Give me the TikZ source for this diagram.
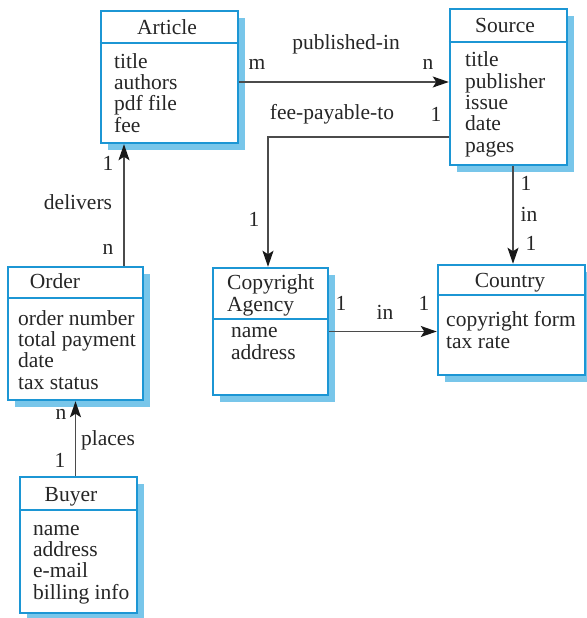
\documentclass[tikz,border=0pt]{standalone}
\usepackage{fontspec}
\setmainfont{Liberation Serif}
\usetikzlibrary{shadows,arrows.meta}
\definecolor{boxblue}{RGB}{28,150,212}
\definecolor{shadowblue}{RGB}{120,198,234}
\definecolor{linegray}{RGB}{75,75,75}
\begin{document}
\begin{tikzpicture}[x=1pt,y=-1pt,
  umlbox/.style={draw=boxblue, line width=2.5pt, fill=white, rectangle, inner sep=0pt,
    drop shadow={shadow xshift=7pt, shadow yshift=-7pt, fill=shadowblue, opacity=1}},
  divider/.style={draw=boxblue, line width=2.5pt},
  txt/.style={font=\fontsize{21.5}{21.3}\selectfont, inner sep=0pt, align=left, text=black!85},
  lbl/.style={font=\fontsize{21.5}{21.3}\selectfont, inner sep=0pt, text=black!85},
  conn/.style={draw=linegray, line width=1.3pt, -{Stealth[length=16pt,width=11pt,inset=3.5pt,color=black!90]}}]
\useasboundingbox (0,0) rectangle (586,618);

% boxes
\node[umlbox, minimum width=137pt, minimum height=132pt] (article) at (169.5,77) {};
\node[umlbox, minimum width=117pt, minimum height=156pt] (source) at (508.5,87) {};
\node[umlbox, minimum width=115pt, minimum height=127pt] (copyright) at (270.5,331.5) {};
\node[umlbox, minimum width=147pt, minimum height=110pt] (country) at (511.5,320) {};
\node[umlbox, minimum width=135pt, minimum height=133pt] (order) at (75.5,333.5) {};
\node[umlbox, minimum width=117pt, minimum height=136pt] (buyer) at (78.5,545) {};

% dividers
\coordinate (ya) at (0,43);
\coordinate (ys) at (0,42);
\coordinate (yc) at (0,319);
\coordinate (yk) at (0,295);
\coordinate (yo) at (0,298);
\coordinate (yb) at (0,510);
\draw[divider] (article.west |- ya) -- (article.east |- ya);
\draw[divider] (source.west |- ys) -- (source.east |- ys);
\draw[divider] (copyright.west |- yc) -- (copyright.east |- yc);
\draw[divider] (country.west |- yk) -- (country.east |- yk);
\draw[divider] (order.west |- yo) -- (order.east |- yo);
\draw[divider] (buyer.west |- yb) -- (buyer.east |- yb);

% headers (base anchor = last line's baseline)
\node[txt, anchor=base] (articleh) at (167,35) {Article};
\node[txt, anchor=base] (sourceh) at (505,33) {Source};
\node[txt, anchor=base west] (copyrighth) at (227,311) {Copyright\\Agency};
\node[txt, anchor=base] (countryh) at (510,287) {Country};
\node[txt, anchor=base] (orderh) at (55,288) {Order};
\node[txt, anchor=base] (buyerh) at (71,501) {Buyer};

% attributes
\node[txt, anchor=base west] (articlea) at (114,132) {title\\authors\\pdf file\\fee};
\node[txt, anchor=base west] (sourcea) at (465,152) {title\\publisher\\issue\\date\\pages};
\node[txt, anchor=base west] (copyrighta) at (231,359) {name\\address};
\node[txt, anchor=base west] (countrya) at (446,348) {copyright form\\tax rate};
\node[txt, anchor=base west] (ordera) at (18,389) {order number\\total payment\\date\\tax status};
\node[txt, anchor=base west] (buyera) at (33,599) {name\\address\\e-mail\\billing info};

% connectors
\coordinate (xd) at (124,0);
\coordinate (xs) at (513,0);
\draw[conn] ([yshift=-5pt]article.east) -- ([yshift=-5pt]article.east -| source.west);
\draw[conn] ([yshift=-50pt]source.west) -| ([xshift=-2.5pt]copyright.north);
\draw[conn] (source.south -| xs) -- (country.north -| xs);
\draw[conn] (copyright.east) -- (copyright.east -| country.west);
\draw[conn] (order.north -| xd) -- (article.south -| xd);
\draw[conn] (buyer.north -| order.south) -- (order.south);

% labels
\node[lbl] (l1) at (346,44) {published-in};
\node[lbl] (l2) at (257,64) {m};
\node[lbl] (l3) at (428,64) {n};
\node[lbl] (l4) at (332,114) {fee-payable-to};
\node[lbl] (l5) at (436,114) {1};
\node[lbl] (l6) at (254,219) {1};
\node[lbl] (l7) at (526,183) {1};
\node[lbl] (l8) at (529,214) {in};
\node[lbl] (l9) at (531,243) {1};
\node[lbl] (l10) at (341,303) {1};
\node[lbl] (l11) at (385,312) {in};
\node[lbl] (l12) at (424,303) {1};
\node[lbl] (l13) at (108,163) {1};
\node[lbl] (l14) at (78,202) {delivers};
\node[lbl] (l15) at (108,249) {n};
\node[lbl] (l16) at (61,414) {n};
\node[lbl] (l17) at (108,440) {places};
\node[lbl] (l18) at (60,460) {1};
\end{tikzpicture}
\end{document}
